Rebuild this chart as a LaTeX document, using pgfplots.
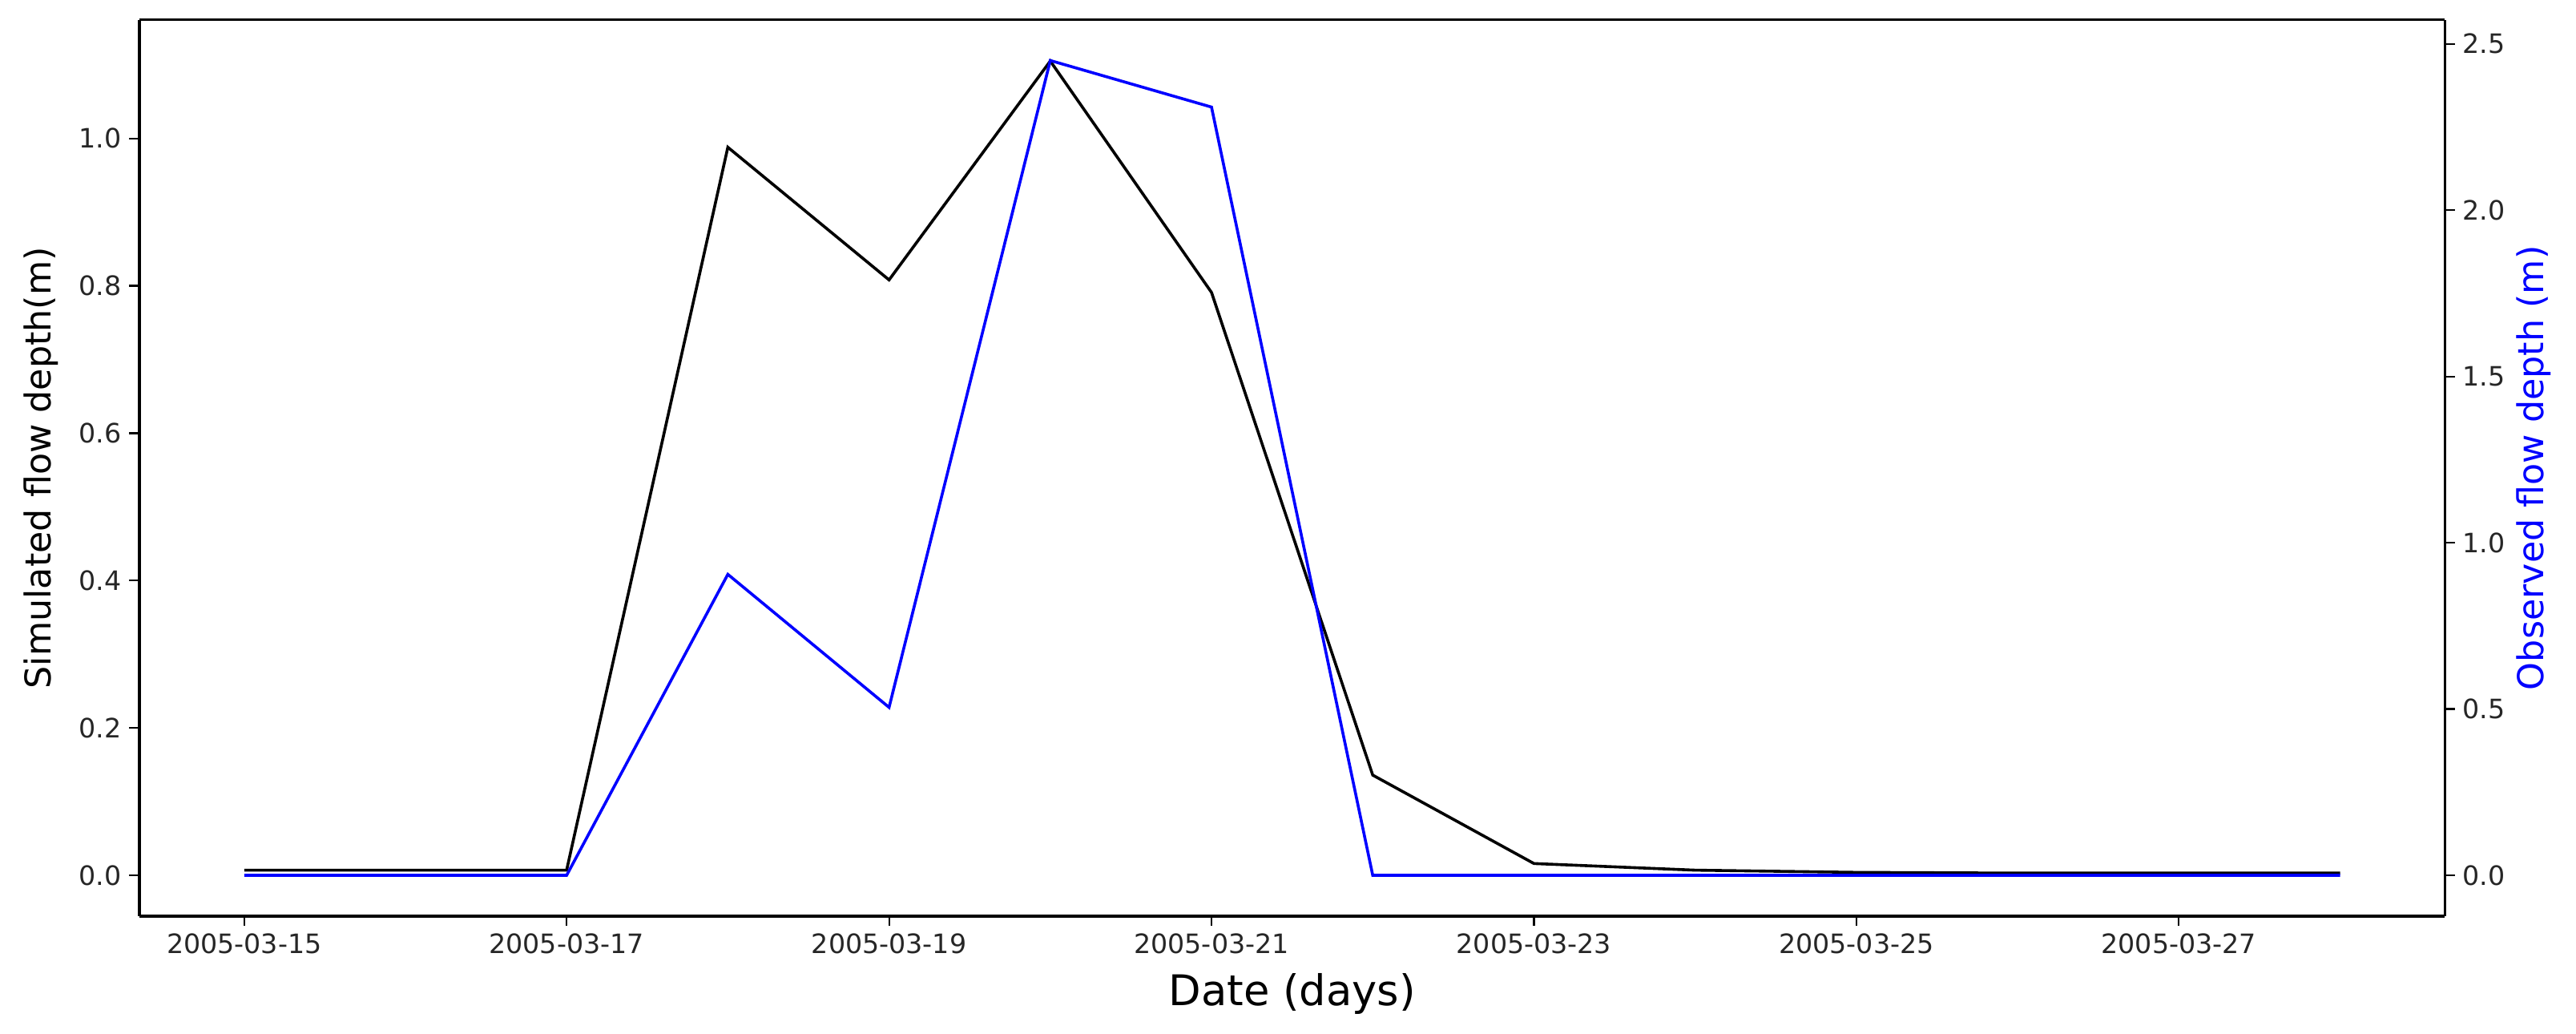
\documentclass[border=0pt]{standalone}
\usepackage{pgfplots}
\pgfplotsset{compat=1.18}
\usepackage{fontspec}
\setmainfont{DejaVu Sans}
\definecolor{obsblue}{RGB}{0,0,255}

\begin{document}
\begin{tikzpicture}
\pgfplotsset{
  every axis/.append style={
    scale only axis, width=1037pt, height=403pt,
    xmin=14.35, xmax=28.65,
    tick align=outside, major tick length=4.5pt,
    tick style={black, line width=0.8pt},
    axis line style={line width=1.2pt},
    /pgf/number format/assume math mode=true,
    ticklabel style={font=\fontsize{12}{14}\selectfont, text=black!85},
    /pgf/number format/fixed, /pgf/number format/fixed zerofill,
  },
}
% simulated depth, left axis
\begin{axis}[
    name=main,
    axis y line*=left,
    ymin=-0.0553, ymax=1.161,
    ytick={0,0.2,0.4,0.6,0.8,1.0},
    yticklabel style={/pgf/number format/precision=1},
    xtick={15,17,19,21,23,25,27},
    xticklabels={2005-03-15,2005-03-17,2005-03-19,2005-03-21,2005-03-23,2005-03-25,2005-03-27},
    xtick pos=bottom,
    xlabel={Date (days)},
    xlabel style={font=\fontsize{19}{22}\selectfont, at={(axis description cs:0.5,-0.087)}, anchor=center},
    ylabel={Simulated flow depth(m)},
    ylabel style={font=\fontsize{16}{19}\selectfont, at={(axis description cs:-0.0425,0.5)}, anchor=center},
]
\addplot[black, line width=1.3pt] coordinates {
  (15,0.007) (16,0.007) (17,0.007) (18,0.988) (19,0.808) (20,1.105)
  (21,0.791) (22,0.136) (23,0.016) (24,0.007) (25,0.004) (26,0.003)
  (27,0.003) (28,0.003)
};
\end{axis}
% observed depth, right axis
\begin{axis}[
    axis y line*=right, axis x line=none,
    ymin=-0.1225, ymax=2.5725,
    ytick={0,0.5,1.0,1.5,2.0,2.5},
    yticklabel style={/pgf/number format/precision=1},
    ylabel={Observed flow depth (m)},
    ylabel style={font=\fontsize{16}{19}\selectfont, text=obsblue, at={(axis description cs:1.0384,0.5)}, anchor=center},
]
\addplot[obsblue, line width=1.3pt] coordinates {
  (15,0) (16,0) (17,0) (18,0.905) (19,0.505) (20,2.45)
  (21,2.31) (22,0) (23,0) (24,0) (25,0) (26,0) (27,0) (28,0)
};
\end{axis}
% whitespace round the figure, as in the reference
\pgfresetboundingbox
\path ([xshift=-62.7pt,yshift=-53pt]main.south west) rectangle ([xshift=59pt,yshift=8.9pt]main.north east);
\end{tikzpicture}
\end{document}
